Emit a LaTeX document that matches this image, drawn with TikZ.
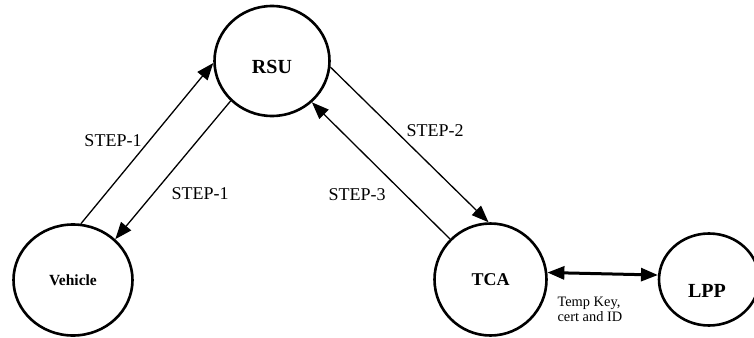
\documentclass[tikz,border=0pt]{standalone}
\usepackage{fontspec}
\setmainfont{Liberation Serif}
\newfontfamily\tnr{Liberation Serif}
\usetikzlibrary{shapes.geometric,arrows.meta}

\begin{document}
\begin{tikzpicture}[x=1pt,y=-1pt,
    >={Triangle[length=17pt,width=13pt]},
    party/.style={draw,ellipse,line width=2.6pt,inner sep=0pt},
    msg/.style={line width=1.3pt},
    steplbl/.style={font=\tnr\fontsize{18}{20}\selectfont}]
    \useasboundingbox (0,0) rectangle (754,337);

    % the parties
    \node[party,minimum width=115pt,minimum height=110pt,
          label={[yshift=-6pt,font=\tnr\fontsize{20}{24}\selectfont\bfseries]center:RSU}] (rsu) at (272,61) {};
    \node[party,minimum width=119pt,minimum height=111pt,
          label={[font=\tnr\fontsize{15.5}{18}\selectfont\bfseries]center:Vehicle}] (veh) at (73,280) {};
    \node[party,minimum width=112pt,minimum height=112pt,
          label={[font=\tnr\fontsize{18}{22}\selectfont\bfseries]center:TCA}] (tca) at (490.5,279.5) {};
    \node[party,minimum width=100pt,minimum height=92pt,
          label={[yshift=-11pt,xshift=-2pt,font=\tnr\fontsize{20}{24}\selectfont\bfseries]center:LPP}] (lpp) at (709,279.5) {};

    % vehicle and rsu
    \draw[msg,->] (veh.82) -- (rsu.182);
    \draw[msg,->] (rsu.224) -- (veh.44);
    \node[steplbl] (s1a) at (113,141) {STEP-1};
    \node[steplbl] (s1b) at (200,194) {STEP-1};

    % rsu and tca
    \draw[msg,->] (rsu.354) -- (tca.92);
    \draw[msg,->] (tca.135) -- (rsu.314);
    \node[steplbl] (s2) at (435,131) {STEP-2};
    \node[steplbl] (s3) at (357,195) {STEP-3};

    % tca and lpp
    \draw[line width=3pt,<->] (tca.7) -- (lpp.175);
    \node[font=\tnr\fontsize{14.4}{15}\selectfont,align=left,anchor=west] (keys) at (554,309) {Temp Key,\\cert and ID};
\end{tikzpicture}
\end{document}
